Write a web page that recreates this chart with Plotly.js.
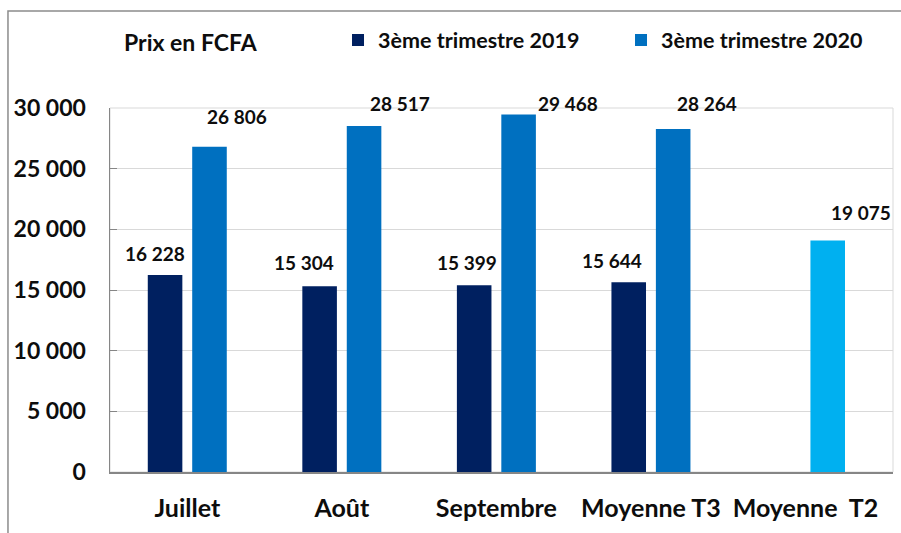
<!DOCTYPE html>
<html>
<head>
<meta charset="utf-8">
<script src="https://cdn.plot.ly/plotly-3.0.1.min.js"></script>
<style>html,body{margin:0;padding:0;background:#fff;}#chart{width:901px;height:533px;}</style>
</head>
<body>
<div id="chart"></div>
<script>
// ---- data ----
var categories = ["Juillet", "Août", "Septembre", "Moyenne T3", "Moyenne\u00A0 T2"];
var series2019Name = "3ème trimestre 2019";
var series2020Name = "3ème trimestre 2020";
var values2019 = [16228, 15304, 15399, 15644, null];
var values2020 = [26806, 28517, 29468, 28264, 19075];
var yTickValues = [0, 5000, 10000, 15000, 20000, 25000, 30000];

// ---- style ----
var colors2019 = "#002060";
var colors2020 = ["#0070C0", "#0070C0", "#0070C0", "#0070C0", "#00B0F0"];
var FONT = "Lato, 'Open Sans', sans-serif";
// label nudges (px) relative to each bar's top centre
var nudge2019 = [[-10, 22], [-15, 24], [-7, 23], [-16, 22], [0, 0]];
var nudge2020 = [[27, 30], [36, 22], [49, 11], [34, 26], [33, 28]];
var slotHalf = 22.5;

function fmt(v) { return String(v).replace(/\B(?=(\d{3})+(?!\d))/g, " "); }

var labelFont = {family: FONT, size: 19, color: "#0d0d0d", weight: "bold"};
var annotations = [];
categories.forEach(function (c, i) {
  if (values2019[i] != null) {
    annotations.push({x: c, y: values2019[i], xref: "x", yref: "y", text: fmt(values2019[i]),
      showarrow: false, xshift: -slotHalf + nudge2019[i][0], yshift: nudge2019[i][1], font: labelFont});
  }
  if (values2020[i] != null) {
    annotations.push({x: c, y: values2020[i], xref: "x", yref: "y", text: fmt(values2020[i]),
      showarrow: false, xshift: slotHalf + nudge2020[i][0], yshift: nudge2020[i][1], font: labelFont});
  }
});
annotations.push({xref: "paper", yref: "paper", x: 0.0153, y: 1.181, xanchor: "left", yanchor: "middle",
  text: "Prix en FCFA", showarrow: false, font: {family: FONT, size: 23, color: "#0d0d0d", weight: "bold"}});

var traces = [
  {type: "bar", name: series2019Name, x: categories, y: values2019, marker: {color: colors2019}, hoverinfo: "none"},
  {type: "bar", name: series2020Name, x: categories, y: values2020, marker: {color: colors2020}, hoverinfo: "none"}
];

var layout = {
  width: 901, height: 533,
  margin: {l: 110, r: 8, t: 108, b: 61, autoexpand: false},
  paper_bgcolor: "#ffffff", plot_bgcolor: "#ffffff",
  separators: ", ",
  barmode: "group", bargap: 0.425, bargroupgap: 0.222,
  showlegend: true,
  legend: {orientation: "h", x: 0.2912, xanchor: "left", y: 1.187, yanchor: "middle",
    font: {family: FONT, size: 21.5, color: "#0d0d0d", weight: "bold"},
    entrywidth: 238, entrywidthmode: "pixels", traceorder: "normal", bgcolor: "rgba(0,0,0,0)"},
  xaxis: {type: "category", showgrid: false, showline: true, linecolor: "#868686", linewidth: 2,
    ticks: "", tickfont: {family: FONT, size: 25, color: "#0d0d0d", weight: "bold"},
    ticklabelstandoff: 13, fixedrange: true},
  yaxis: {range: [0, 30000], tickvals: yTickValues, tickformat: ",d",
    showgrid: true, gridcolor: "#d9d9d9", gridwidth: 1, zeroline: false,
    showline: true, linecolor: "#868686", linewidth: 1.5,
    ticks: "inside", ticklen: 7, tickcolor: "#868686",
    tickfont: {family: FONT, size: 23, color: "#0d0d0d", weight: "bold"},
    ticklabelstandoff: 18, fixedrange: true},
  shapes: [
    {type: "rect", xref: "paper", yref: "paper", x0: 0, x1: 1, y0: 0, y1: 1,
      line: {color: "#d9d9d9", width: 1}, layer: "below"},
    {type: "rect", xref: "paper", yref: "paper", x0: -0.1303, x1: 1.05, y0: -0.3, y1: 1.2665,
      line: {color: "#8c8c8c", width: 1.5}, layer: "below"}
  ],
  annotations: annotations
};

Plotly.newPlot("chart", traces, layout, {displayModeBar: false, staticPlot: true});
</script>
</body>
</html>
